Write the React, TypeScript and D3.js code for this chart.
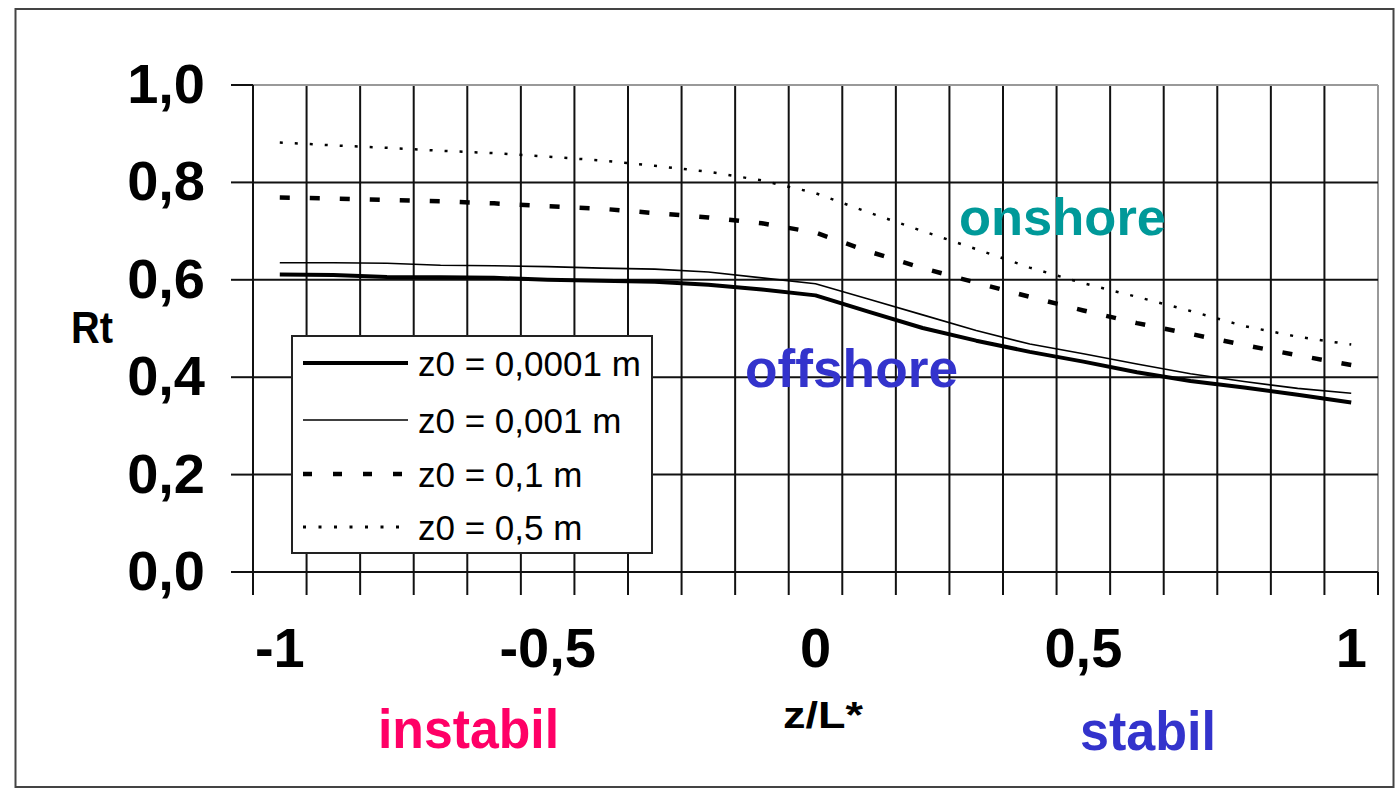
import React from "react";
import * as d3 from "d3";

// z/L* categories (category axis, one per 0.1 step)
const categories: number[] = [-1, -0.9, -0.8, -0.7, -0.6, -0.5, -0.4, -0.3, -0.2, -0.1, 0, 0.1, 0.2, 0.3, 0.4, 0.5, 0.6, 0.7, 0.8, 0.9, 1];
const xTickLabels: { value: number; label: string }[] = [
  { value: -1, label: "-1" },
  { value: -0.5, label: "-0,5" },
  { value: 0, label: "0" },
  { value: 0.5, label: "0,5" },
  { value: 1, label: "1" },
];
const yTicks: number[] = [0, 0.2, 0.4, 0.6, 0.8, 1.0];

const rtZ00001: number[] = [0.611, 0.610, 0.606, 0.605, 0.604, 0.600, 0.598, 0.596, 0.590, 0.580, 0.568, 0.534, 0.501, 0.475, 0.452, 0.432, 0.410, 0.392, 0.379, 0.364, 0.348];
const rtZ0001: number[] = [0.635, 0.635, 0.634, 0.630, 0.629, 0.627, 0.624, 0.622, 0.616, 0.604, 0.592, 0.560, 0.528, 0.496, 0.468, 0.448, 0.427, 0.407, 0.391, 0.377, 0.367];
const rtZ01: number[] = [0.769, 0.767, 0.764, 0.761, 0.757, 0.751, 0.746, 0.737, 0.728, 0.716, 0.697, 0.658, 0.624, 0.594, 0.565, 0.537, 0.511, 0.489, 0.466, 0.445, 0.425];
const rtZ05: number[] = [0.882, 0.876, 0.871, 0.865, 0.860, 0.853, 0.845, 0.834, 0.822, 0.804, 0.778, 0.738, 0.700, 0.663, 0.625, 0.593, 0.565, 0.536, 0.505, 0.483, 0.467];

const seriesNames: string[] = ["z0 = 0,0001 m", "z0 = 0,001 m", "z0 = 0,1 m", "z0 = 0,5 m"];

const FONT = "'Liberation Sans', Arial, Helvetica, sans-serif";

export default function App() {
  const W = 1398;
  const H = 790;
  const left = 253;
  const right = 1378;
  const top = 85;
  const bottom = 572;

  const x = d3
    .scaleBand<number>()
    .domain(categories)
    .range([left, right])
    .paddingInner(0)
    .paddingOuter(0);
  const bw = x.bandwidth();
  const cx = (c: number) => (x(c) as number) + bw / 2;
  const y = d3.scaleLinear().domain([0, 1]).range([bottom, top]);

  const line = d3
    .line<number>()
    .x((_, i) => cx(categories[i]))
    .y((v) => y(v));

  const boundaries = d3.range(categories.length + 1).map((i) => left + i * bw);

  const styles = [
    { data: rtZ00001, width: 4, dash: undefined as string | undefined },
    { data: rtZ0001, width: 1.6, dash: undefined as string | undefined },
    { data: rtZ01, width: 4.5, dash: "10,20" },
    { data: rtZ05, width: 2.5, dash: "3,12" },
  ];

  const legendX = 292;
  const legendY = 336;
  const legendW = 360;
  const legendH = 217;
  const rowY = [363, 420, 474, 527];

  return (
    <svg
      width={W}
      height={H}
      viewBox={`0 0 ${W} ${H}`}
      style={{ position: "absolute", left: 0, top: 0, background: "#fff" }}
    >
      <rect x={0} y={0} width={W} height={H} fill="#fff" />
      {/* outer frame */}
      <rect x={15.5} y={9} width={1378} height={778} fill="none" stroke="#444" strokeWidth={2} />

      {/* vertical gridlines */}
      {boundaries.slice(1, -1).map((bx, i) => (
        <line key={"vg" + i} x1={bx} x2={bx} y1={top} y2={bottom} stroke="#111" strokeWidth={2} />
      ))}
      {/* right border */}
      <line x1={right} x2={right} y1={top} y2={bottom} stroke="#999" strokeWidth={2} />
      {/* horizontal gridlines */}
      {yTicks.slice(1).map((t) => (
        <line
          key={"hg" + t}
          x1={left}
          x2={right}
          y1={y(t)}
          y2={y(t)}
          stroke={t === 1 ? "#999" : "#111"}
          strokeWidth={2}
        />
      ))}
      {/* y axis */}
      <line x1={left} x2={left} y1={top} y2={bottom} stroke="#111" strokeWidth={2} />
      {yTicks.map((t) => (
        <line key={"yt" + t} x1={231} x2={left} y1={y(t)} y2={y(t)} stroke="#111" strokeWidth={2} />
      ))}
      {/* x axis */}
      <line x1={231} x2={right} y1={bottom} y2={bottom} stroke="#111" strokeWidth={2} />
      {boundaries.map((bx, i) => (
        <line key={"xt" + i} x1={bx} x2={bx} y1={bottom} y2={595} stroke="#111" strokeWidth={2} />
      ))}

      {/* series */}
      {styles.map((s, i) => (
        <path
          key={"s" + i}
          d={line(s.data) || ""}
          fill="none"
          stroke="#000"
          strokeWidth={s.width}
          strokeDasharray={s.dash}
          strokeLinecap="butt"
          strokeLinejoin="round"
        />
      ))}

      {/* y tick labels */}
      {yTicks.map((t) => (
        <text
          key={"yl" + t}
          x={205}
          y={y(t) + 18}
          textAnchor="end"
          fontFamily={FONT}
          fontWeight="bold"
          fontSize={56}
          fill="#000"
        >
          {t.toFixed(1).replace(".", ",")}
        </text>
      ))}
      {/* x tick labels */}
      {xTickLabels.map((t) => (
        <text
          key={"xl" + t.value}
          x={cx(t.value)}
          y={667}
          textAnchor="middle"
          fontFamily={FONT}
          fontWeight="bold"
          fontSize={56}
          fill="#000"
        >
          {t.label}
        </text>
      ))}

      {/* axis titles */}
      <text x={71} y={343} fontFamily={FONT} fontWeight="bold" fontSize={45} textLength={42} lengthAdjust="spacingAndGlyphs" fill="#000">
        Rt
      </text>
      <text x={783} y={728} fontFamily={FONT} fontWeight="bold" fontSize={36} textLength={80} lengthAdjust="spacingAndGlyphs" fill="#000">
        z/L*
      </text>

      {/* annotations */}
      <text x={378} y={748} fontFamily={FONT} fontWeight="bold" fontSize={55} textLength={181} lengthAdjust="spacingAndGlyphs" fill="#ff0066">
        instabil
      </text>
      <text x={1080} y={750} fontFamily={FONT} fontWeight="bold" fontSize={55} textLength={136} lengthAdjust="spacingAndGlyphs" fill="#3333cc">
        stabil
      </text>
      <text x={959} y={235} fontFamily={FONT} fontWeight="bold" fontSize={52} textLength={207} lengthAdjust="spacingAndGlyphs" fill="#009999">
        onshore
      </text>
      <text x={745} y={387} fontFamily={FONT} fontWeight="bold" fontSize={54} textLength={213} lengthAdjust="spacingAndGlyphs" fill="#3333cc">
        offshore
      </text>

      {/* legend */}
      <rect x={legendX} y={legendY} width={legendW} height={legendH} fill="#fff" stroke="#222" strokeWidth={2} />
      {styles.map((s, i) => (
        <g key={"lg" + i}>
          <line
            x1={303}
            x2={i === 3 ? 400 : 408}
            y1={rowY[i]}
            y2={rowY[i]}
            stroke="#000"
            strokeWidth={i === 2 ? 4.5 : i === 3 ? 3 : s.width}
            strokeDasharray={i === 2 ? "9,21" : i === 3 ? "3,12.5" : undefined}
          />
          <text x={418} y={rowY[i] + 13} fontFamily={FONT} fontSize={35} fill="#000">
            {seriesNames[i]}
          </text>
        </g>
      ))}
    </svg>
  );
}
